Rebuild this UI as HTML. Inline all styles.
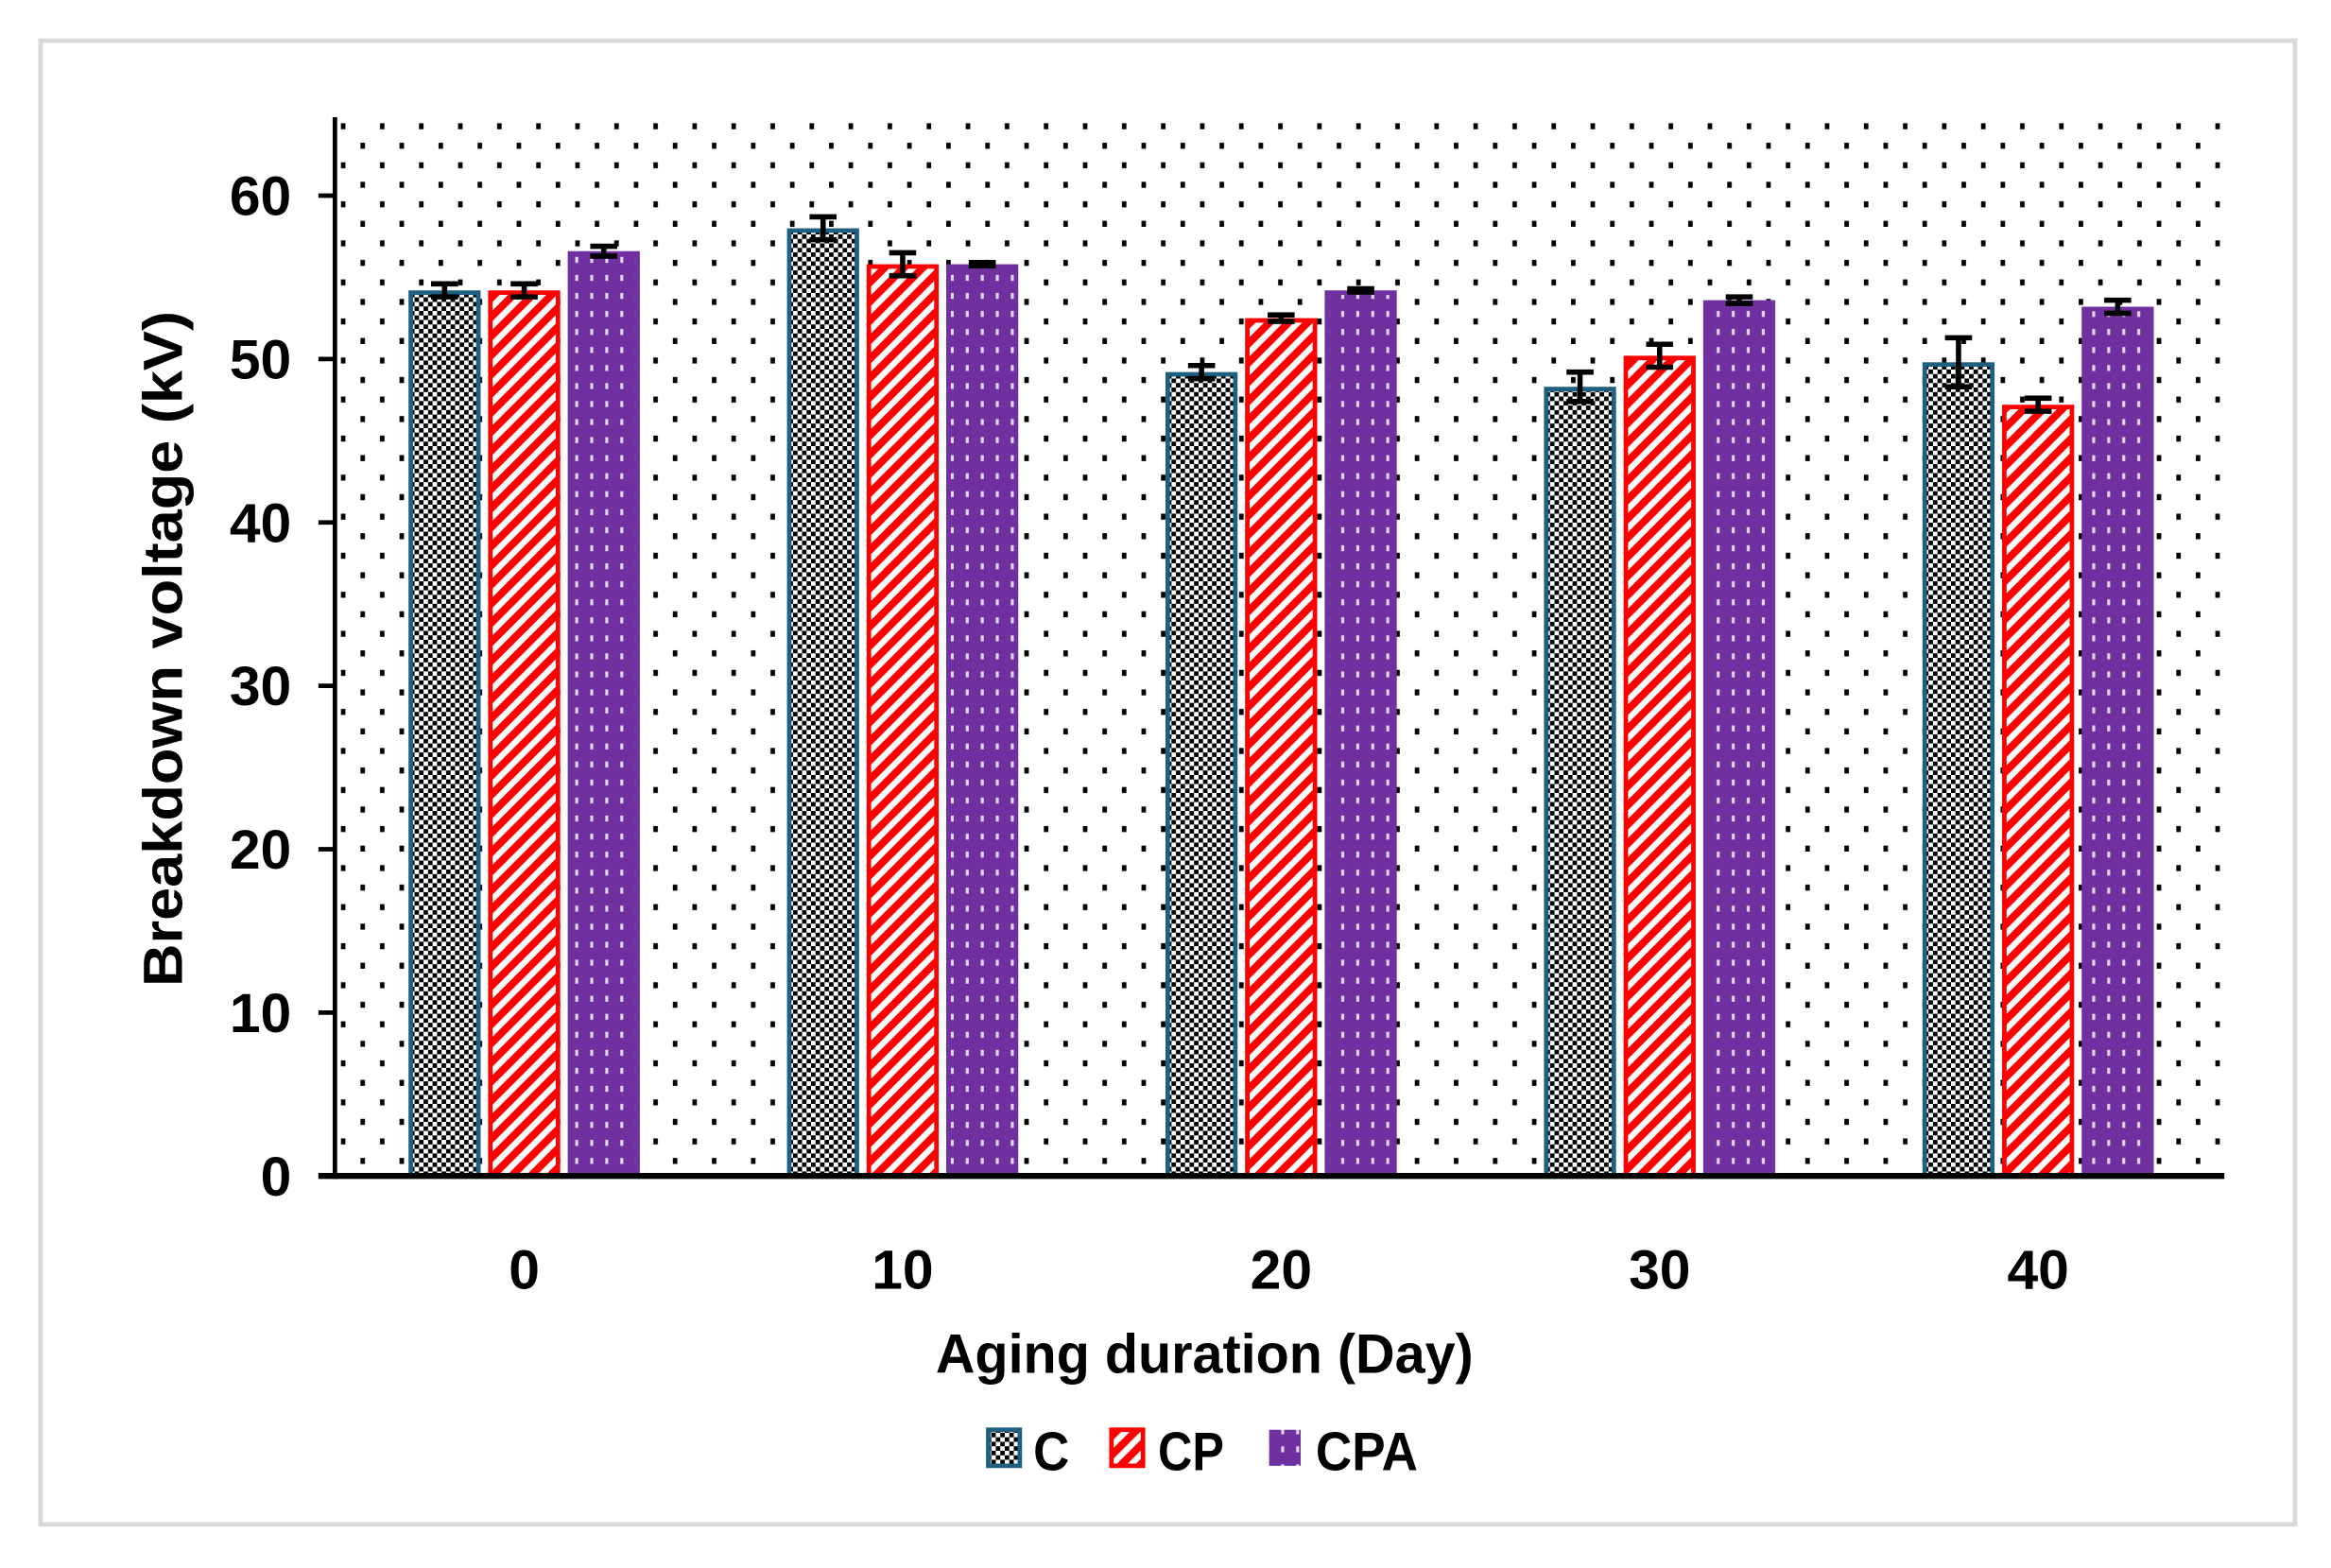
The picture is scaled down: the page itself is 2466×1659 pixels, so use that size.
<!DOCTYPE html>
<html><head><meta charset="utf-8"><style>
html,body{margin:0;padding:0;background:#fff;}
svg{display:block;}
text{font-family:"Liberation Sans",sans-serif;font-weight:bold;fill:#000;}
</style></head><body>
<svg id="chart" width="2466" height="1659" viewBox="0 0 1552 1044" xmlns="http://www.w3.org/2000/svg">
<defs>
<pattern id="bgdots" width="26" height="26" patternUnits="userSpaceOnUse" x="224" y="78">
<rect x="3" y="4" width="3" height="4" fill="#000"/><rect x="16" y="17" width="3" height="4" fill="#000"/>
</pattern>
<pattern id="check" width="6" height="6" patternUnits="userSpaceOnUse">
<rect width="6" height="6" fill="#fff"/><rect width="3" height="3" fill="#000"/><rect x="3" y="3" width="3" height="3" fill="#000"/>
</pattern>
<pattern id="stripes" width="9" height="9" patternUnits="userSpaceOnUse" patternTransform="rotate(45)">
<rect width="9" height="9" fill="#fff"/><rect width="5" height="9" fill="#ff0000"/>
</pattern>
<pattern id="pdots" width="10" height="12" patternUnits="userSpaceOnUse">
<rect width="10" height="12" fill="#7030a0"/><rect x="3" y="3" width="2" height="4" fill="#fff" opacity="0.8"/>
</pattern>
</defs>
<rect x="27" y="27" width="1501" height="988" fill="#fff" stroke="#d9d9d9" stroke-width="3"/>
<rect x="224" y="78" width="1256" height="705" fill="url(#bgdots)"/>
<g id="bars"></g>
<g id="axes"></g>
<text transform="translate(121,432) rotate(-90)" text-anchor="middle" font-size="37" textLength="450" lengthAdjust="spacingAndGlyphs">Breakdown voltage (kV)</text>
<text x="802" y="914" text-anchor="middle" font-size="37" textLength="358" lengthAdjust="spacingAndGlyphs">Aging duration  (Day)</text>
<g>
<rect x="658" y="952" width="21" height="24" fill="url(#check)" stroke="#1f5f80" stroke-width="3"/>
<text x="688" y="979" font-size="36" textLength="24" lengthAdjust="spacingAndGlyphs">C</text>
<rect x="740" y="952" width="21" height="24" fill="url(#stripes)" stroke="#ff0000" stroke-width="3"/>
<text x="771" y="979" font-size="36" textLength="44" lengthAdjust="spacingAndGlyphs">CP</text>
<rect x="845" y="952" width="21" height="24" fill="url(#pdots)"/>
<text x="876" y="979" font-size="36" textLength="68" lengthAdjust="spacingAndGlyphs">CPA</text>
</g>
</svg>
<script>
const categories = ["0","10","20","30","40"];
const seriesNames = ["C","CP","CPA"];
const valuesC = [54.2, 58.0, 49.2, 48.3, 49.8];
const valuesCP = [54.2, 55.8, 52.5, 50.2, 47.2];
const valuesCPA = [56.6, 55.8, 54.2, 53.6, 53.2];
const errC = [0.4, 0.7, 0.4, 0.9, 1.5];
const errCP = [0.4, 0.7, 0.2, 0.7, 0.4];
const errCPA = [0.3, 0.1, 0.1, 0.2, 0.4];
const yTicks = [0,10,20,30,40,50,60];

const NS = "http://www.w3.org/2000/svg";
const y0 = 783, perUnit = 10.88;
function yScale(v){ return y0 - v*perUnit; }
function xCenter(i){ return 349 + i*252; }
const fills = ["url(#check)","url(#stripes)","url(#pdots)"];
const strokes = ["#1f5f80","#ff0000","#7030a0"];
const allVals = [valuesC, valuesCP, valuesCPA];
const allErr = [errC, errCP, errCPA];
const bw = 48, gap = 5;
function mk(tag, attrs, parent){ const e=document.createElementNS(NS,tag); for(const k in attrs) e.setAttribute(k, attrs[k]); parent.appendChild(e); return e; }
const gb = document.getElementById('bars');
categories.forEach((c,i)=>{
  allVals.forEach((vals,s)=>{
    const x = xCenter(i) - 1.5*bw - gap + s*(bw+gap);
    const y = yScale(vals[i]);
    const r = mk('rect',{x:x+1.5,y:y+1.5,width:bw-3,height:y0-y-1.5,fill:fills[s],stroke:strokes[s],'stroke-width':3},gb);
    
    
    const cx = x + bw/2, yt = yScale(vals[i]+allErr[s][i]), yb = yScale(vals[i]-allErr[s][i]);
    const eb = mk('path',{d:`M${cx},${yt}V${yb}M${cx-9},${yt}H${cx+9}M${cx-9},${yb}H${cx+9}`,stroke:'#000','stroke-width':3.5,fill:'none'},gb);
    
    
  });
  const t = mk('text',{x:xCenter(i),y:858,'text-anchor':'middle','font-size':37},gb);
  t.textContent = c;
  
  
});
const ga = document.getElementById('axes');
const ya = mk('line',{x1:223,y1:78,x2:223,y2:785,stroke:'#000','stroke-width':3},ga);


const xa = mk('line',{x1:212,y1:783,x2:1481,y2:783,stroke:'#000','stroke-width':4},ga);


yTicks.forEach(v=>{
  const y = yScale(v);
  const tk = mk('line',{x1:212,y1:y,x2:224,y2:y,stroke:'#000','stroke-width':3},ga);
  
  
  const t = mk('text',{x:194,y:y+13,'text-anchor':'end','font-size':37},ga);
  t.textContent = v;
  
  
});
</script>
</body></html>
